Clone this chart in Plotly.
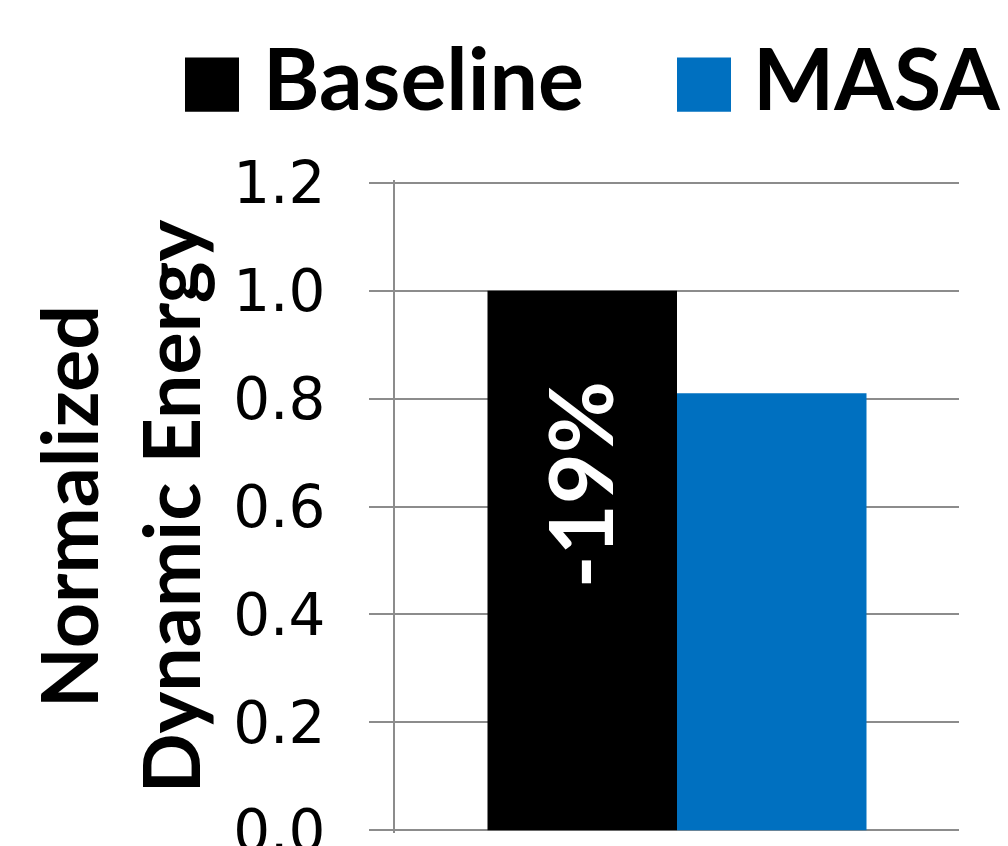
import plotly.graph_objects as go

# ---------------- data ----------------
categories = ["Dynamic Energy"]
series_names = ["Baseline", "MASA"]
baseline_values = [1.0]
masa_values = [0.81]
y_tick_values = [0.0, 0.2, 0.4, 0.6, 0.8, 1.0, 1.2]
y_tick_labels = ["0.0", "0.2", "0.4", "0.6", "0.8", "1.0", "1.2"]
y_title = "Normalized<br>Dynamic Energy"

# ---------------- style ----------------
W, H = 1008, 846
Y0_PX, Y12_PX = 830, 183          # pixel rows of value 0 and 1.2
X_L, X_R = 395, 959               # plot area left / right
YPAD = 0.005                      # tiny pad so edge gridlines are drawn
scale = (Y0_PX - Y12_PX) / 1.2
T = Y12_PX - YPAD * scale
B = H - Y0_PX - YPAD * scale
L, R = X_L, W - X_R
PW, PH = W - L - R, H - T - B
colors = ["#000000", "#0070C0"]
grid_color = "#8c8c8c"
bargap = 0.328
bold_font = "Lato"


def px(x):
    return (x - L) / PW


def py(y):
    return (H - B - y) / PH


fig = go.Figure()
for name, vals, col in zip(series_names, [baseline_values, masa_values], colors):
    fig.add_trace(go.Bar(x=categories, y=vals, name=name,
                         marker=dict(color=col, line=dict(width=0))))

fig.update_layout(
    width=W, height=H,
    margin=dict(l=L, r=R, t=T, b=B, pad=0, autoexpand=False),
    paper_bgcolor="white", plot_bgcolor="white",
    barmode="group", bargap=bargap, bargroupgap=0,
    showlegend=False,
)
fig.update_xaxes(showticklabels=False, showgrid=False, showline=False,
                 ticks="", zeroline=False, automargin=False)
fig.update_yaxes(
    range=[-YPAD, 1.2 + YPAD], tickmode="array", tickvals=y_tick_values,
    ticktext=y_tick_labels, automargin=False,
    ticks="outside", ticklen=24, tickwidth=2, tickcolor=grid_color,
    showgrid=True, gridcolor=grid_color, gridwidth=2,
    showline=True, linecolor=grid_color, linewidth=2, zeroline=False,
    tickfont=dict(family="DejaVu Sans", size=58, color="black"),
    ticklabelstandoff=32, ticklabeloverflow="allow",
    title=dict(text=y_title, standoff=6,
               font=dict(family=bold_font, size=79, color="black", weight="bold")),
)

# legend drawn large (as in the reference)
legend_items = [(series_names[0], colors[0], 185, 261),
                (series_names[1], colors[1], 677, 751)]
for name, col, sx, tx in legend_items:
    fig.add_shape(type="rect", xref="paper", yref="paper",
                  x0=px(sx), x1=px(sx + 54), y0=py(112), y1=py(58),
                  fillcolor=col, line=dict(width=0))
    fig.add_annotation(xref="paper", yref="paper", x=px(tx), y=py(77),
                       xanchor="left", yanchor="middle", showarrow=False,
                       text=name,
                       font=dict(family=bold_font, size=86, color="black", weight="bold"))

# reduction label inside the baseline bar
reduction = (masa_values[0] - baseline_values[0]) / baseline_values[0] * 100
bar_px = PW * (1 - bargap) / 2
fig.add_annotation(x=categories[0], y=0.64, xref="x", yref="y",
                   xshift=-bar_px / 2 - 3, showarrow=False, textangle=-90,
                   text=f"{reduction:.0f}%",
                   font=dict(family=bold_font, size=88, color="white", weight="bold"))

fig.write_html("out.html")
